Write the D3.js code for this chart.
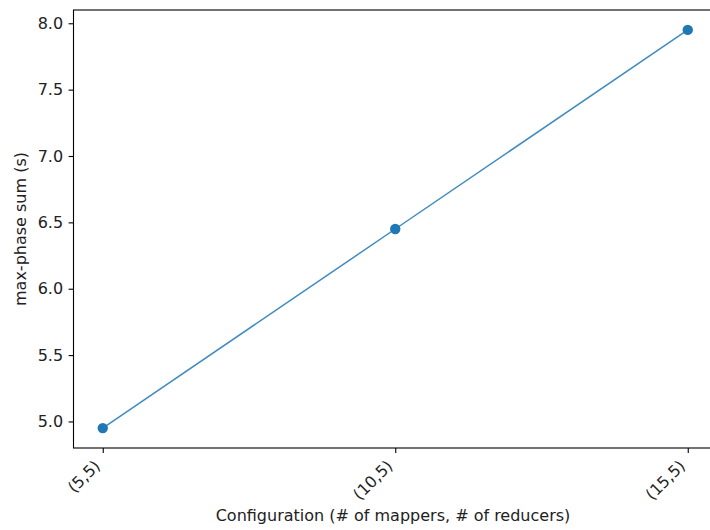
<!DOCTYPE html>
<html><head><meta charset="utf-8">
<script src="https://cdn.jsdelivr.net/npm/d3@7/dist/d3.min.js"></script>
<style>body{margin:0;background:#fff}svg{display:block}</style>
</head><body>
<svg id="c" width="710" height="530"></svg>
<script>
const categories = ["(5,5)", "(10,5)", "(15,5)"];
const values = [4.95, 6.45, 7.95];
const yTicks = [5.0, 5.5, 6.0, 6.5, 7.0, 7.5, 8.0];

const svg = d3.select("#c");
const L = 73.5, R = 717, T = 10, B = 448;
const font = "DejaVu Sans, sans-serif";
const fs = 16;

const x = d3.scaleLinear().domain([-0.1, 2.1]).range([L, R]);
const y = d3.scaleLinear().domain([4.80, 8.10]).range([B, T]);

// line
svg.append("path")
  .datum(values)
  .attr("fill", "none")
  .attr("stroke", "#1f77b4")
  .attr("stroke-opacity", 0.85)
  .attr("stroke-width", 1.5)
  .attr("d", d3.line().x((d, i) => x(i)).y(d => y(d)));

svg.selectAll("circle.pt").data(values).enter().append("circle")
  .attr("class", "pt")
  .attr("cx", (d, i) => x(i)).attr("cy", d => y(d))
  .attr("r", 5.2).attr("fill", "#1f77b4");

// y axis
const yAxis = d3.axisLeft(y).tickValues(yTicks).tickFormat(d3.format(".1f")).tickSize(4.9).tickPadding(5.5);
const gy = svg.append("g").attr("transform", `translate(${L},0)`).call(yAxis);
gy.select(".domain").remove();
gy.selectAll("line").attr("stroke", "#000").attr("stroke-width", 1.1);
gy.selectAll("text").attr("font-family", font).attr("font-size", fs).attr("fill", "#222");

// x axis
const xAxis = d3.axisBottom(x).tickValues([0, 1, 2]).tickFormat(i => categories[i]).tickSize(4.9);
const gx = svg.append("g").attr("transform", `translate(0,${B})`).call(xAxis);
gx.select(".domain").remove();
gx.selectAll("line").attr("stroke", "#000").attr("stroke-width", 1.1);
gx.selectAll("text")
  .attr("font-family", font).attr("font-size", fs).attr("fill", "#222")
  .attr("y", null).attr("dy", null)
  .attr("text-anchor", "end")
  .attr("transform", "translate(-2,19) rotate(-45)");

// frame
svg.append("rect").attr("x", L).attr("y", T).attr("width", R - L).attr("height", B - T)
  .attr("fill", "none").attr("stroke", "#000").attr("stroke-width", 1.1);

// labels
svg.append("text").attr("x", 393).attr("y", 521)
  .attr("text-anchor", "middle").attr("font-family", font).attr("font-size", fs).attr("fill", "#222")
  .text("Configuration (# of mappers, # of reducers)");
svg.append("text").attr("transform", `translate(26,${(T + B) / 2}) rotate(-90)`)
  .attr("text-anchor", "middle").attr("font-family", font).attr("font-size", fs).attr("fill", "#222")
  .text("max-phase sum (s)");
</script>
</body></html>
